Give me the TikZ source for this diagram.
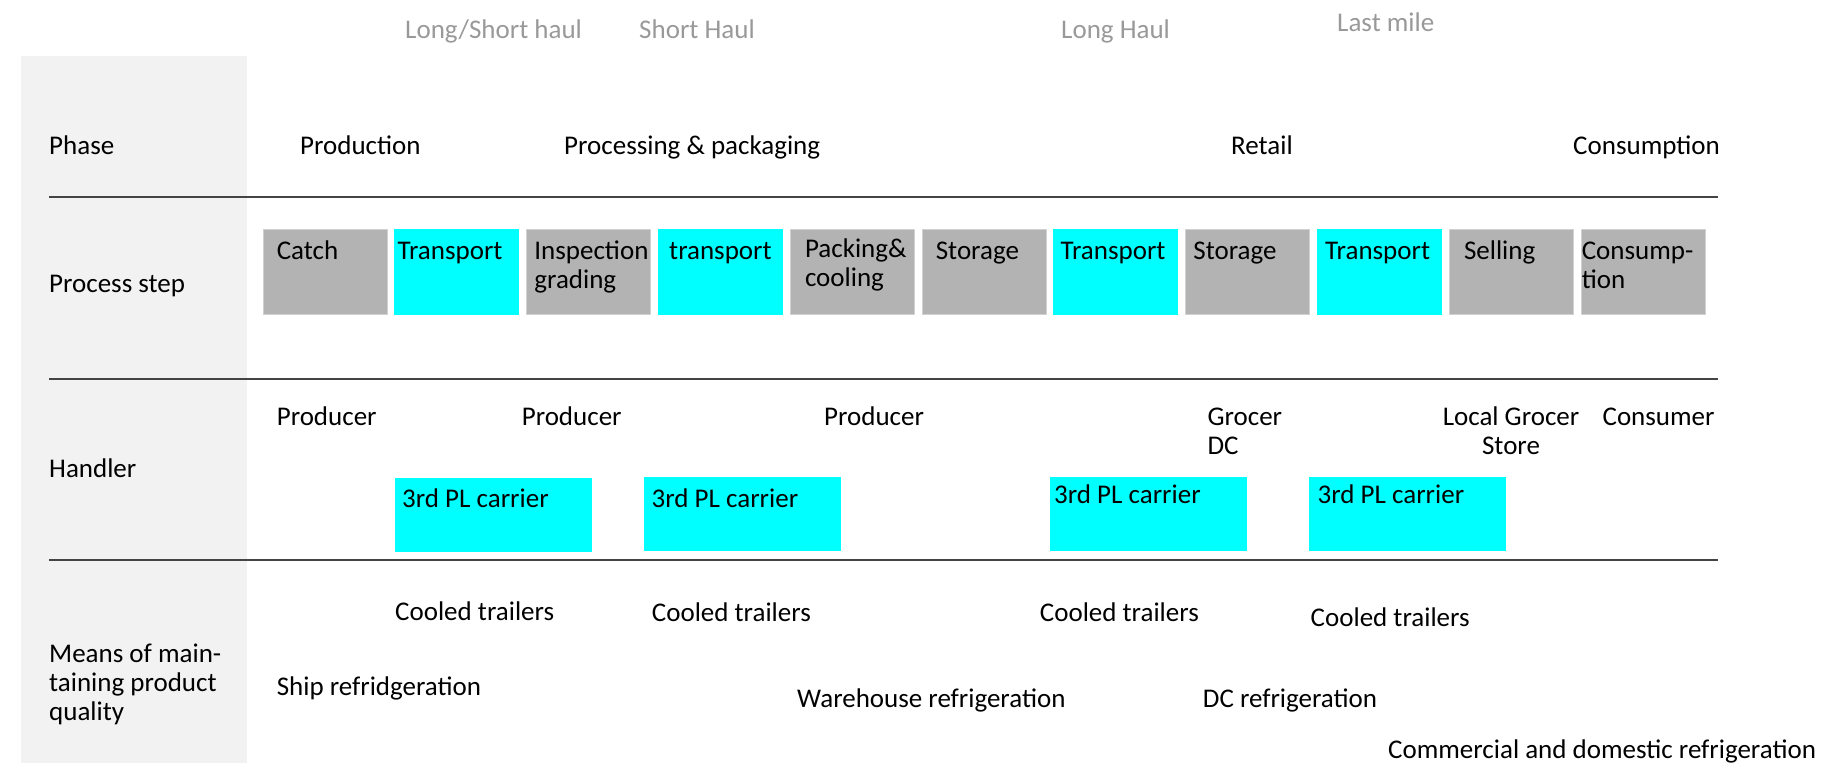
\documentclass[tikz,border=0pt]{standalone}
\usepackage{fontspec}
\setmainfont{Carlito}
\usetikzlibrary{positioning}

\definecolor{stepgray}{HTML}{B3B3B3}
\definecolor{stepcyan}{HTML}{00FFFF}
\definecolor{panelgray}{HTML}{F2F2F2}
\definecolor{haulgray}{HTML}{999999}
\definecolor{rulegray}{HTML}{444444}

\begin{document}
\begin{tikzpicture}[x=1pt, y=-1pt,
	every node/.style={inner sep=0pt, font=\fontsize{27}{29}\selectfont},
	txt/.style={anchor=base west, align=left},
	haul/.style={txt, text=haulgray},
	graybox/.style={fill=stepgray, draw=black!18, line width=1pt, minimum width=124pt, minimum height=85pt, anchor=north west},
	cyanbox/.style={graybox, fill=stepcyan, draw=stepcyan},
	carrierbox/.style={fill=stepcyan, minimum width=197pt, minimum height=74pt, anchor=north west},
	rowline/.style={draw=rulegray, line width=1.5pt}]

\useasboundingbox (0,0) rectangle (1838,763);

% label column
\fill [panelgray] (21,56) rectangle (247,763);

% haul labels
\node [haul] (lshaul)   at (405,38)  {Long/Short haul};
\node [haul] (shaul)    at (639,38)  {Short Haul};
\node [haul] (lhaul)    at (1061,38) {Long Haul};
\node [haul] (lastmile) at (1337,31) {Last mile};

% phase row
\node [txt] (phase)  at (49,154)   {Phase};
\node [txt] (prod)   at (300,154)  {Production};
\node [txt] (procp)  at (564,154)  {Processing \& packaging};
\node [txt] (retail) at (1231,154) {Retail};
\node [txt] (consp)  at (1573,154) {Consumption};

\draw [rowline] (49,197) -- (1718,197);

% process step row
\node [txt] (pstep) at (49,292) {Process step};

\node [graybox] (catch) at (262.6,229) {};
\node [cyanbox, right=6.8pt of catch]  (trone)   {};
\node [graybox, right=6.8pt of trone]  (insp)    {};
\node [cyanbox, right=6.8pt of insp]   (trtwo)   {};
\node [graybox, right=6.8pt of trtwo]  (pack)    {};
\node [graybox, right=6.8pt of pack]   (stone)   {};
\node [cyanbox, right=6.8pt of stone]  (trthree) {};
\node [graybox, right=6.8pt of trthree] (sttwo)  {};
\node [cyanbox, right=6.8pt of sttwo]  (trfour)  {};
\node [graybox, right=6.8pt of trfour] (sell)    {};
\node [graybox, right=6.8pt of sell]   (cons)    {};

% two-line texts sit on their last line
\node [txt] (catcht)   at ([shift={(14,30)}]catch.north west)   {Catch};
\node [txt] (tronet)   at ([shift={(3,30)}]trone.north west)    {Transport};
\node [txt] (inspt)    at ([shift={(8,59)}]insp.north west)     {Inspection\\grading};
\node [txt] (trtwot)   at ([shift={(11,30)}]trtwo.north west)   {transport};
\node [txt] (packt)    at ([shift={(15,57)}]pack.north west)    {Packing\&\\cooling};
\node [txt] (stonet)   at ([shift={(14,30)}]stone.north west)   {Storage};
\node [txt] (trthreet) at ([shift={(7,30)}]trthree.north west)  {Transport};
\node [txt] (sttwot)   at ([shift={(8,30)}]sttwo.north west)    {Storage};
\node [txt] (trfourt)  at ([shift={(8,30)}]trfour.north west)   {Transport};
\node [txt] (sellt)    at ([shift={(15,30)}]sell.north west)    {Selling};
\node [txt] (const)    at ([shift={(1,59)}]cons.north west)     {Consump-\\tion};

\draw [rowline] (49,379) -- (1718,379);

% handler row
\node [txt] (handler) at (49,477) {Handler};

\node [txt] (prodone)   at (276.6,425)  {Producer};
\node [txt] (prodtwo)   at (521.6,425)  {Producer};
\node [txt] (prodthree) at (824,425)    {Producer};
\node [txt] (grocerdc)  at (1207.4,454) {Grocer\\DC};
\node [txt, anchor=base, align=center] (localgr) at (1511,454) {Local Grocer\\Store};
\node [txt] (consumer)  at (1602.4,425) {Consumer};

\node [carrierbox] (carone)   at (395,478)   {};
\node [carrierbox] (cartwo)   at (643.5,477) {};
\node [carrierbox] (carthree) at (1050,477)  {};
\node [carrierbox] (carfour)  at (1309,477)  {};

\node [txt] (caronet)   at ([shift={(7,29)}]carone.north west)     {3rd PL carrier};
\node [txt] (cartwot)   at ([shift={(8,30)}]cartwo.north west)     {3rd PL carrier};
\node [txt] (carthreet) at ([shift={(4,26)}]carthree.north west)   {3rd PL carrier};
\node [txt] (carfourt)  at ([shift={(8.5,26)}]carfour.north west)  {3rd PL carrier};

\draw [rowline] (49,560) -- (1718,560);

% means row
\node [txt] (means) at (49,720) {Means of main-\\taining product\\quality};

\node [txt] (coolone)   at (395,620)    {Cooled trailers};
\node [txt] (cooltwo)   at (651.7,621)  {Cooled trailers};
\node [txt] (coolthree) at (1039.7,621) {Cooled trailers};
\node [txt] (coolfour)  at (1310.5,626) {Cooled trailers};

\node [txt] (shipref)  at (276.6,695) {Ship refridgeration};
\node [txt] (wareref)  at (797,707)   {Warehouse refrigeration};
\node [txt] (dcref)    at (1202.7,707) {DC refrigeration};
\node [txt] (comref)   at (1388,758)  {Commercial and domestic refrigeration};

\end{tikzpicture}
\end{document}
